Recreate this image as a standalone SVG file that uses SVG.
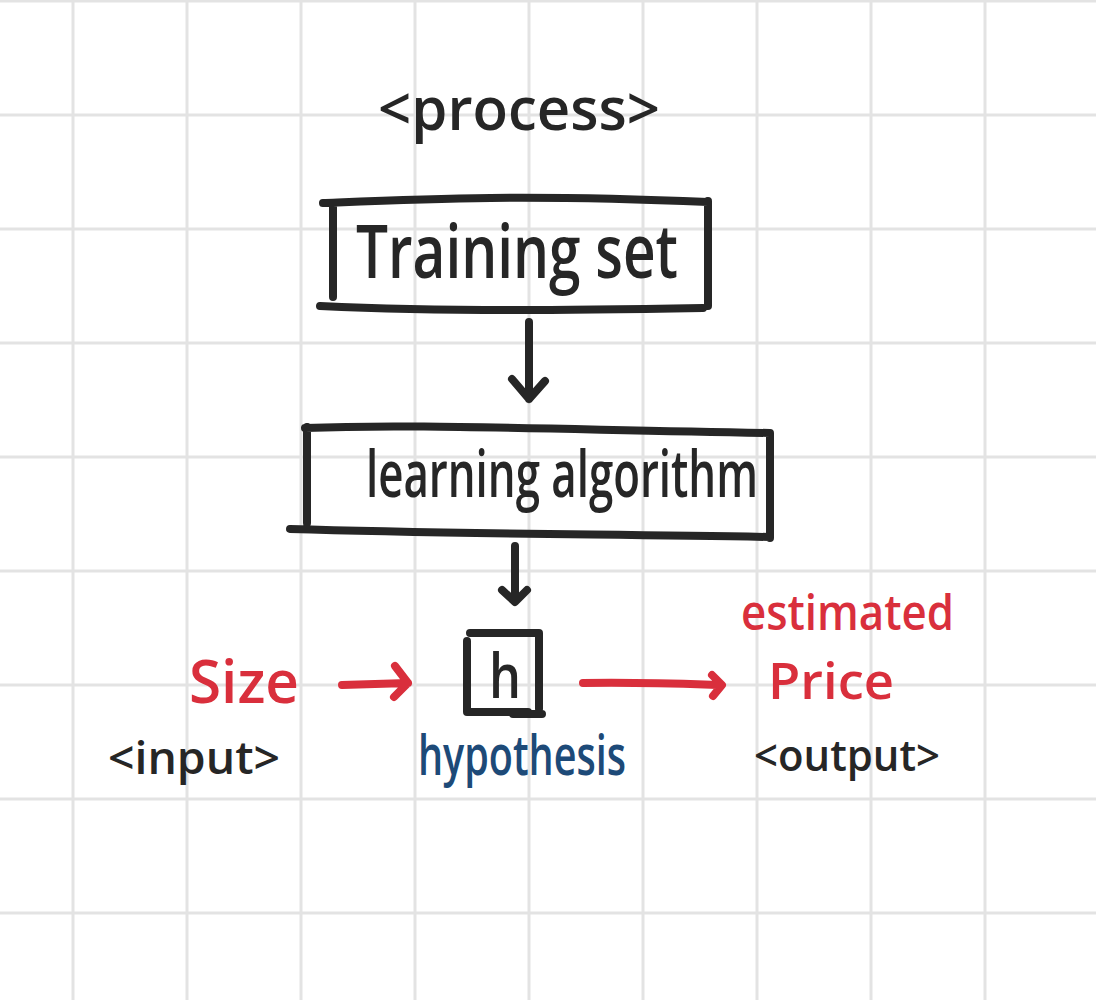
<svg xmlns="http://www.w3.org/2000/svg" width="1096" height="1000" viewBox="0 0 1096 1000">
<style>
.grid{stroke:#e3e3e3;stroke-width:3}
.ink{fill:none;stroke:#262626;stroke-width:8;stroke-linecap:round;stroke-linejoin:round}
.red{fill:none;stroke:#d92f3c;stroke-width:8;stroke-linecap:round;stroke-linejoin:round}
.t{font-family:"Open Sans","Noto Sans",sans-serif;font-weight:600}
.tk{fill:#262626}
.tr{fill:#d92f3c}
.tb{fill:#1d4a78}
</style>
<rect width="1096" height="1000" fill="#ffffff"/>
<g id="grid">
<path class="grid" d="M73 0V1000M187 0V1000M301 0V1000M415 0V1000M529 0V1000M643 0V1000M757 0V1000M871 0V1000M985 0V1000M0 1H1096M0 115H1096M0 229H1096M0 343H1096M0 457H1096M0 571H1096M0 685H1096M0 799H1096M0 913H1096"/>
</g>
<g id="title">
<text class="t tk" x="378" y="130" font-size="60" textLength="282" lengthAdjust="spacingAndGlyphs">&lt;process&gt;</text>
</g>
<g id="training-set">
<path class="ink" d="M323 203C420 199 520 194 708 202M333 207V297M320 306C450 312 580 310 703 308M708 201V306"/>
<text class="t tk" x="356" y="278" font-size="74" textLength="322" lengthAdjust="spacingAndGlyphs">Training set</text>
</g>
<g id="learning-algorithm">
<path class="ink" d="M305 428C400 424 500 428 770 433M307 427V523M290 529C450 534 600 534 770 537M770 433V538"/>
<text class="t tk" x="366" y="497" font-size="66" textLength="392" lengthAdjust="spacingAndGlyphs">learning algorithm</text>
</g>
<g id="h">
<path class="ink" d="M470 633H539V709M467 641V712H528M513 714H542"/>
<text class="t tk" x="489" y="698" font-size="62" textLength="32" lengthAdjust="spacingAndGlyphs">h</text>
<text class="t tb" x="418" y="775" font-size="56" textLength="208" lengthAdjust="spacingAndGlyphs">hypothesis</text>
</g>
<g id="size">
<text class="t tr" x="189" y="703" font-size="60" textLength="110" lengthAdjust="spacingAndGlyphs">Size</text>
<text class="t tk" x="108" y="774" font-size="46" textLength="172" lengthAdjust="spacingAndGlyphs">&lt;input&gt;</text>
</g>
<g id="price">
<text class="t tr" x="741" y="630" font-size="48" textLength="213" lengthAdjust="spacingAndGlyphs">estimated</text>
<text class="t tr" x="768" y="699" font-size="50" textLength="126" lengthAdjust="spacingAndGlyphs">Price</text>
<text class="t tk" x="754" y="771" font-size="44" textLength="186" lengthAdjust="spacingAndGlyphs">&lt;output&gt;</text>
</g>
<g id="connectors">
<path class="ink" d="M529 322V399M512 379L529 399L545 381"/>
<path class="ink" d="M515 546V601M502 590L515 602L527 590"/>
<path class="red" d="M342 685L408 683M395 666L408 683L394 697"/>
<path class="red" d="M583 683C640 682 690 684 721 685M712 675L722 685L713 696"/>
</g>
</svg>
